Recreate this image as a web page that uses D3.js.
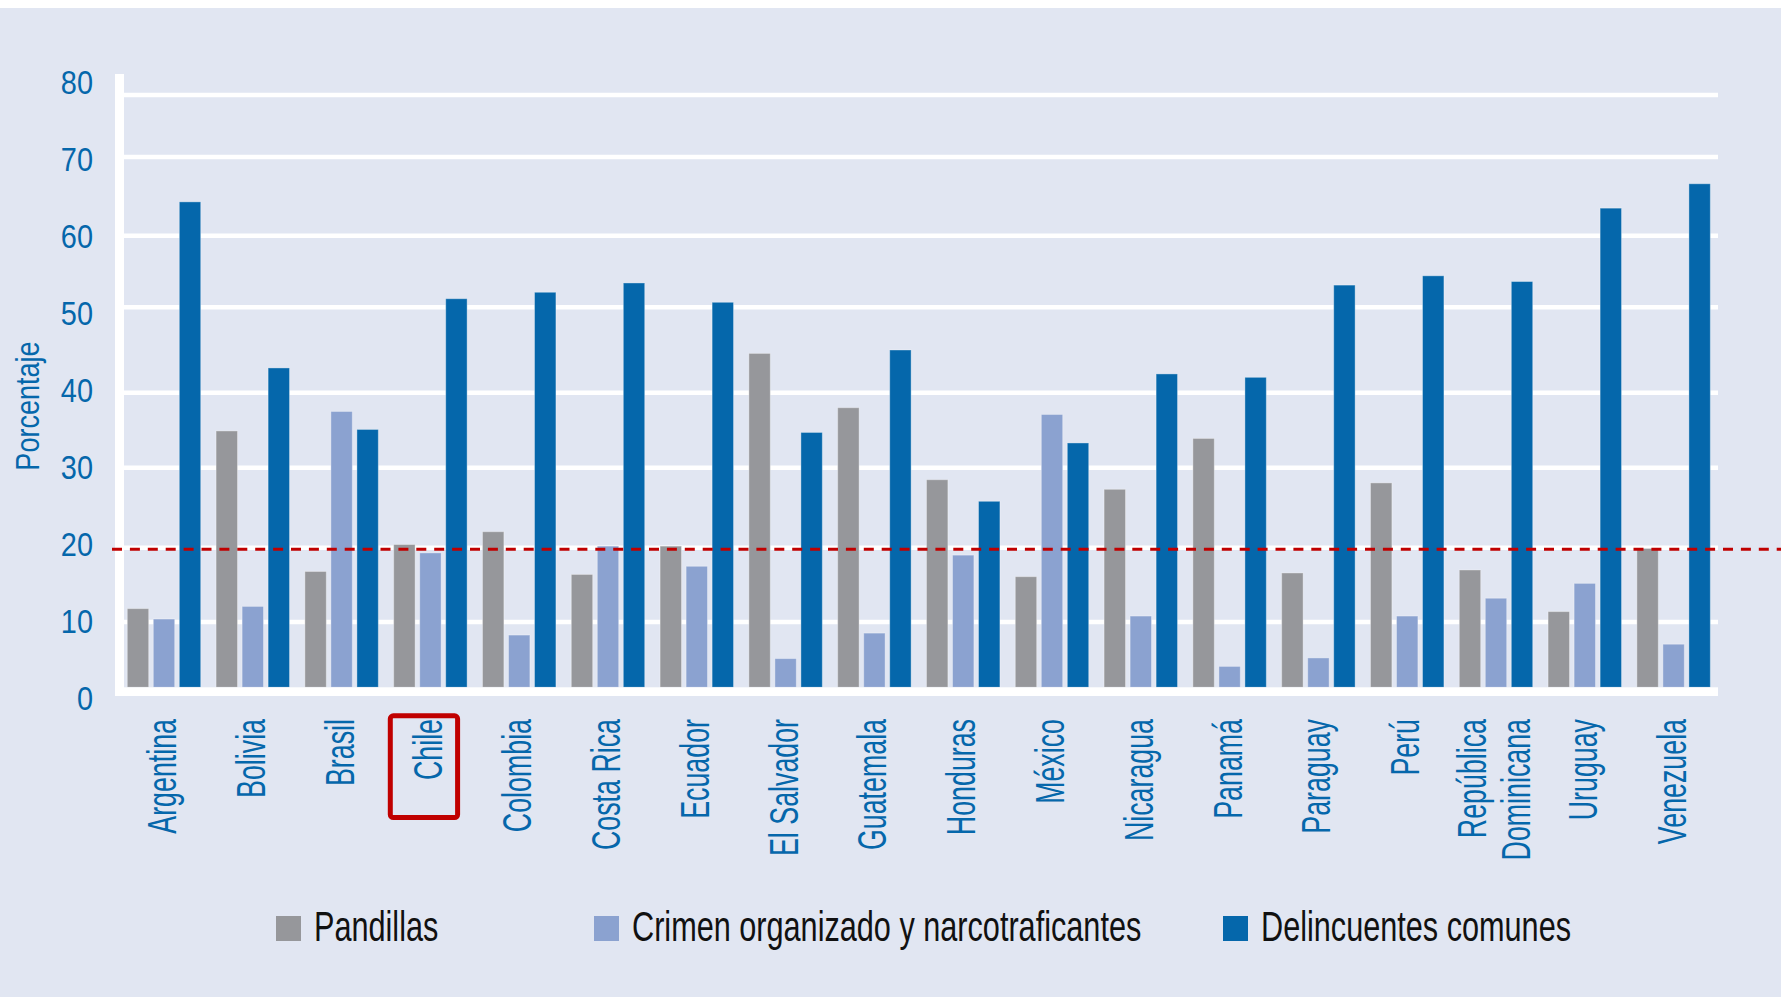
<!DOCTYPE html>
<html>
<head>
<meta charset="utf-8">
<script src="https://cdn.jsdelivr.net/npm/d3@7"></script>
<style>
  html, body { margin: 0; padding: 0; background: #ffffff; overflow: hidden; }
  svg { display: block; }
</style>
</head>
<body>
<svg id="chart" width="1781" height="997"></svg>
<script>
// ---------------- DATA ----------------
const countries = ["Argentina", "Bolivia", "Brasil", "Chile", "Colombia", "Costa Rica", "Ecuador",
  "El Salvador", "Guatemala", "Honduras", "México", "Nicaragua", "Panamá", "Paraguay", "Perú",
  "República Dominicana", "Uruguay", "Venezuela"];
const seriesNames = ["Pandillas", "Crimen organizado y narcotraficantes", "Delincuentes comunes"];
const pandillas = [11.8, 34.9, 16.8, 20.4, 22.0, 16.4, 20.2, 44.6, 38.0, 28.5, 16.1, 27.3, 33.9, 16.6, 28.1, 17.0, 11.4, 19.9];
const crimen = [10.4, 12.1, 37.5, 19.3, 8.0, 20.2, 17.5, 4.4, 8.3, 19.0, 37.1, 10.8, 3.2, 4.5, 10.8, 13.2, 15.2, 6.6];
const delincuentes = [64.3, 42.9, 35.1, 51.2, 52.1, 53.4, 50.7, 34.7, 45.0, 25.8, 33.3, 42.2, 41.8, 53.1, 54.4, 53.6, 63.5, 66.6];
const yTicks = [0, 10, 20, 30, 40, 50, 60, 70, 80];
const referenceValue = 19.8;
const highlighted = "Chile";
const yTitle = "Porcentaje";

// ---------------- STYLE / LAYOUT ----------------
const W = 1781, H = 997;
const colors = ["#96979b", "#8ba2d0", "#0567ab"];
const blue = "#0567ab";
const bg = "#e1e6f2";
const FONT = "'Liberation Sans', Arial, sans-serif";
// gridline positions (the original chart's value axis is not evenly spaced)
const gridRange = [687.3, 622, 547.7, 467.7, 392.7, 307.3, 235.7, 157, 95];
const labelRange = [697.5, 82];
const plotLeft = 115, plotRight = 1718;

const series = [pandillas, crimen, delincuentes];
const rows = countries.map((c, i) => ({ country: c, values: seriesNames.map((s, j) => ({ key: s, value: series[j][i], idx: j })) }));

const svg = d3.select("#chart");

function condense(sel, k) {
  sel.each(function () {
    const L = this.getComputedTextLength();
    this.setAttribute("textLength", (L * k).toFixed(2));
    this.setAttribute("lengthAdjust", "spacingAndGlyphs");
  });
}

// background
svg.append("rect").attr("x", 0).attr("y", 0).attr("width", W).attr("height", H).attr("fill", "#ffffff");
svg.append("rect").attr("x", 0).attr("y", 8).attr("width", W).attr("height", H - 8).attr("fill", bg);

// scales
const y = d3.scaleLinear().domain(yTicks).range(gridRange);
const yLab = d3.scaleLinear().domain([0, 80]).range(labelRange);
const x = d3.scaleBand().domain(countries).range([119.6, plotRight]).paddingInner(0.173).paddingOuter(0.0865);
const xs = d3.scaleBand().domain(seriesNames).range([0, x.bandwidth()]).paddingInner(0.177);

// gridlines
svg.append("g").selectAll("line").data(yTicks.filter(d => d > 0)).join("line")
  .attr("x1", plotLeft).attr("x2", plotRight)
  .attr("y1", d => y(d)).attr("y2", d => y(d))
  .attr("stroke", "#ffffff").attr("stroke-width", 4.5);

// y axis white line
svg.append("rect").attr("x", plotLeft).attr("y", 74).attr("width", 9).attr("height", y(0) + 8.7 - 74).attr("fill", "#ffffff");

// bars
const groups = svg.append("g").selectAll("g").data(rows).join("g")
  .attr("transform", d => `translate(${x(d.country)},0)`);
groups.selectAll("rect").data(d => d.values).join("rect")
  .attr("x", d => xs(d.key))
  .attr("y", d => y(d.value))
  .attr("width", xs.bandwidth())
  .attr("height", d => y(0) - y(d.value))
  .attr("fill", d => colors[d.idx])
  .attr("stroke", "rgba(255,255,255,0.35)")
  .attr("stroke-width", 1);

// baseline band
svg.append("rect").attr("x", plotLeft).attr("y", y(0)).attr("width", plotRight - plotLeft).attr("height", 8.7).attr("fill", "#ffffff");

// reference dashed line
svg.append("line")
  .attr("x1", 112).attr("x2", W)
  .attr("y1", y(referenceValue)).attr("y2", y(referenceValue))
  .attr("stroke", "#c00000").attr("stroke-width", 3)
  .attr("stroke-dasharray", "10 7.9");

// y axis labels
const yAxis = svg.append("g").attr("transform", `translate(${plotLeft},0)`)
  .call(d3.axisLeft(yLab).tickValues(yTicks).tickSize(0).tickPadding(22));
yAxis.select(".domain").remove();
yAxis.attr("font-family", FONT).attr("font-size", 34);
yAxis.selectAll("text").attr("fill", blue).attr("dy", "0.35em").call(condense, 0.85);

// y title
svg.append("text")
  .attr("transform", `translate(39,406) rotate(-90) scale(0.82,1)`)
  .attr("text-anchor", "middle")
  .attr("font-family", FONT).attr("font-size", 33).attr("fill", blue)
  .text(yTitle);

// x labels (rotated)
const labelLines = c => c === "República Dominicana" ? ["República", "Dominicana"] : [c];
const xl = svg.append("g");
countries.forEach(c => {
  const lines = labelLines(c);
  const cx = x(c) + x.bandwidth() / 2;
  lines.forEach((t, i) => {
    const off = (i - (lines.length - 1) / 2) * 44;
    xl.append("text")
      .attr("transform", `translate(${cx + 12 + off},719) rotate(-90) scale(0.67,1)`)
      .attr("text-anchor", "end")
      .attr("font-family", FONT).attr("font-size", 40).attr("fill", blue)
      .text(t);
  });
});

// highlight box around Chile label
const hx = x(highlighted) + x.bandwidth() / 2;
svg.append("rect")
  .attr("x", hx - 40.1).attr("y", 715.8).attr("width", 67.3).attr("height", 101.7)
  .attr("rx", 3).attr("fill", "none").attr("stroke", "#c00000").attr("stroke-width", 5);

// legend
const legendX = [276, 594, 1223];
const lg = svg.append("g").selectAll("g").data(seriesNames).join("g")
  .attr("transform", (d, i) => `translate(${legendX[i]},916)`);
lg.append("rect").attr("width", 25).attr("height", 25).attr("fill", (d, i) => colors[i]);
lg.append("text")
  .attr("transform", "translate(38,25) scale(0.73,1)")
  .attr("font-family", FONT).attr("font-size", 42).attr("fill", "#111111")
  .text(d => d);
</script>
</body>
</html>
